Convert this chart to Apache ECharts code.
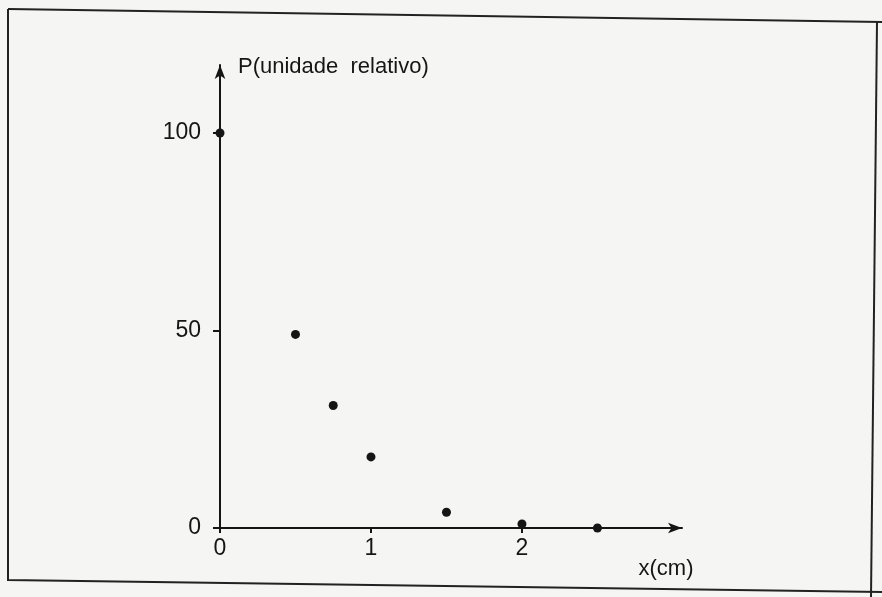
<!DOCTYPE html>
<html>
<head>
<meta charset="utf-8">
<script src="https://cdn.jsdelivr.net/npm/echarts@6/dist/echarts.min.js"></script>
<style>
html,body{margin:0;padding:0;background:#f5f5f3;}
#chart{width:882px;height:597px;}
</style>
</head>
<body>
<div id="chart"></div>
<script>
// Data
const xValues = [0, 0.5, 0.75, 1, 1.5, 2, 2.5];      // x (cm)
const pValues = [100, 49, 31, 18, 4, 1, 0];           // P (unidade relativo)
const xTickValues = [0, 1, 2];
const yTickValues = [0, 50, 100];
const yAxisName = 'P(unidade  relativo)';
const xAxisName = 'x(cm)';

const points = xValues.map((x, i) => [x, pValues[i]]);
const ink = '#151515';
const font = 'Liberation Sans';

const chart = echarts.init(document.getElementById('chart'), null, {renderer: 'canvas'});
chart.setOption({
  backgroundColor: '#f5f5f3',
  animation: false,
  grid: {left: 220, top: 65, right: 200, bottom: 69, containLabel: false},
  xAxis: {
    type: 'value', min: 0, max: 3.06,
    name: xAxisName, nameLocation: 'end', nameGap: -16,
    nameTextStyle: {fontFamily: font, fontSize: 22, color: ink, align: 'center', verticalAlign: 'top', padding: [30, 0, 0, 0]},
    axisLine: {show: true, symbol: ['none', 'arrow'], symbolSize: [8, 14], lineStyle: {color: ink, width: 2}},
    axisTick: {show: true, length: 5, customValues: xTickValues, lineStyle: {color: ink, width: 2}},
    axisLabel: {show: true, customValues: xTickValues, margin: 9, fontFamily: font, fontSize: 23, color: ink},
    splitLine: {show: false}
  },
  yAxis: {
    type: 'value', min: 0, max: 117.2,
    name: yAxisName, nameLocation: 'end', nameGap: -2,
    nameTextStyle: {fontFamily: font, fontSize: 22, color: ink, align: 'left', verticalAlign: 'middle', padding: [0, 0, 0, 18]},
    axisLine: {show: true, symbol: ['none', 'arrow'], symbolSize: [8, 14], lineStyle: {color: ink, width: 2}},
    axisTick: {show: true, length: 7, customValues: yTickValues, lineStyle: {color: ink, width: 2}},
    axisLabel: {show: true, customValues: yTickValues, margin: 19, fontFamily: font, fontSize: 23, color: ink},
    splitLine: {show: false}
  },
  series: [{
    type: 'scatter',
    data: points,
    symbol: 'circle',
    symbolSize: 9,
    clip: false,
    itemStyle: {color: ink, opacity: 1}
  }],
  graphic: [
    {type: 'polyline', shape: {points: [[8, 9], [882, 22]]}, style: {stroke: '#222', lineWidth: 2, fill: null}},
    {type: 'polyline', shape: {points: [[8, 9], [8, 580], [882, 592]]}, style: {stroke: '#222', lineWidth: 2, fill: null}},
    {type: 'polyline', shape: {points: [[877, 22], [871, 597]]}, style: {stroke: '#222', lineWidth: 2, fill: null}}
  ]
});
</script>
</body>
</html>
